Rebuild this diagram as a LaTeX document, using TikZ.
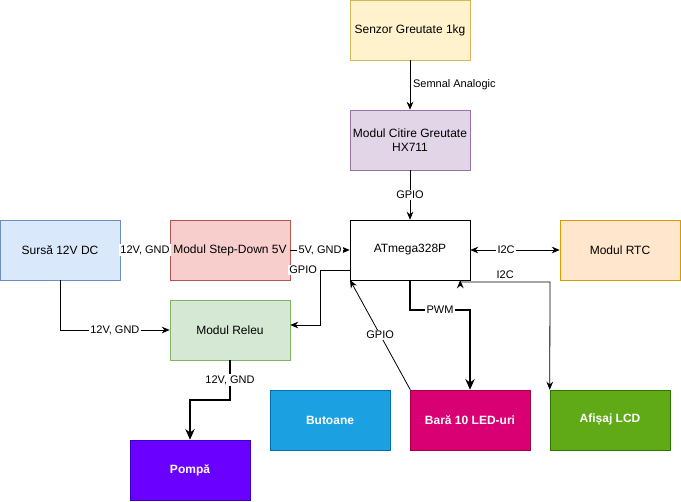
\documentclass[tikz,border=0pt]{standalone}
\usepackage{fontspec}
\setmainfont{Liberation Sans}
\usetikzlibrary{arrows.meta}
\definecolor{yF}{HTML}{FFF2CC}\definecolor{yS}{HTML}{D6B656}
\definecolor{pF}{HTML}{E1D5E7}\definecolor{pS}{HTML}{9673A6}
\definecolor{oF}{HTML}{FFE6CC}\definecolor{oS}{HTML}{D79B00}
\definecolor{bF}{HTML}{DAE8FC}\definecolor{bS}{HTML}{6C8EBF}
\definecolor{rF}{HTML}{F8CECC}\definecolor{rS}{HTML}{B85450}
\definecolor{gF}{HTML}{D5E8D4}\definecolor{gS}{HTML}{82B366}
\definecolor{c1}{HTML}{1BA1E2}\definecolor{c1s}{HTML}{006EAF}
\definecolor{c2}{HTML}{D80073}\definecolor{c2s}{HTML}{A50040}
\definecolor{c3}{HTML}{60A917}\definecolor{c3s}{HTML}{2D7600}
\definecolor{c4}{HTML}{6A00FF}\definecolor{c4s}{HTML}{3700CC}
\begin{document}
\begin{tikzpicture}[x=0.75pt,y=-0.75pt,
 box/.style={draw,minimum width=90pt,minimum height=45pt,inner sep=1pt,align=center,font=\fontsize{9}{11}\selectfont},
 dark/.style={box,text=white,font=\fontsize{9}{11}\selectfont\bfseries},
 lbl/.style={font=\fontsize{8.25}{10}\selectfont,fill=white,inner sep=1pt},
 arr/.style={-{Stealth[length=6pt,width=5pt]},line width=0.6pt},
 thick arr/.style={-{Stealth[length=8pt,width=7pt]},line width=2.2pt}]
\useasboundingbox (0,0) rectangle (681,501);
\node[box,fill=yF,draw=yS] (sen) at (410,30) {Senzor Greutate 1kg};
\node[box,fill=pF,draw=pS] (hx) at (410,140) {Modul Citire Greutate\\HX711};
\node[box,fill=white,draw=black] (at) at (410,250) {ATmega328P};
\node[box,fill=oF,draw=oS] (rtc) at (620,250) {Modul RTC};
\node[box,fill=bF,draw=bS] (src) at (60,250) {Sursă 12V DC};
\node[box,fill=rF,draw=rS] (sd) at (230,250) {Modul Step-Down 5V};
\node[box,fill=gF,draw=gS] (rel) at (230,330) {Modul Releu};
\node[dark,fill=c1,draw=c1s] (but) at (330,420) {Butoane};
\node[dark,fill=c2,draw=c2s] (bar) at (470,420) {Bară 10 LED-uri};
\node[dark,fill=c3,draw=c3s] (lcd) at (610,420) {Afișaj LCD};
\node[dark,fill=c4,draw=c4s] (pom) at (190,470) {Pompă};
\draw[arr] (sen) -- node[lbl,right=1pt,pos=0.5]{Semnal Analogic} (hx);
\draw[arr] (hx) -- node[lbl,pos=0.5]{GPIO} (at);
\draw[arr,{Stealth[length=6pt,width=5pt]}-{Stealth[length=6pt,width=5pt]}] (at) -- node[lbl,pos=0.4]{I2C} (rtc);
\draw[arr,{Stealth[length=6pt,width=5pt]}-{Stealth[length=6pt,width=5pt]}] (at.south east)++(-10,0) |- (550,282) node[lbl,pos=0.75,above=1pt]{I2C} -- (lcd.north west);
\draw[arr] (src) -- node[lbl,pos=0.5]{12V, GND} (sd);
\draw[arr] (sd) -- node[lbl,pos=0.5]{5V, GND} (at);
\draw[arr] (src.south) |- node[lbl,pos=0.75]{12V, GND} (rel.west);
\draw[arr] (350,270) -| (320,325) node[lbl,pos=0.5,left=0pt,xshift=-1pt]{GPIO} -- (rel.east|-0,325);
\draw[arr] (but.north east)++(20,0) -- node[lbl,pos=0.5]{GPIO} (350,280);
\draw[thick arr] (410,280) |- (470,310) node[lbl,pos=0.75]{PWM} -- (bar.north);
\draw[thick arr] (rel.south) |- (190,400) node[lbl,pos=0.25]{12V, GND} -- (pom.north);
\end{tikzpicture}
\end{document}
